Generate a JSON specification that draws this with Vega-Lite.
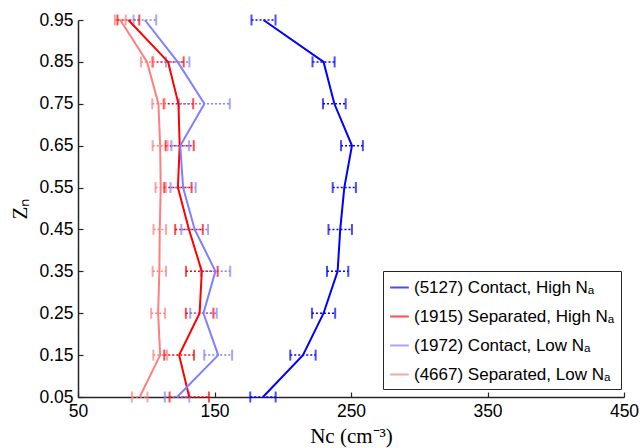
{
  "$schema": "https://vega.github.io/schema/vega-lite/v6.json",
  "width": 546,
  "height": 377,
  "autosize": {"type": "none"},
  "padding": {"left": 78, "top": 20, "right": 16, "bottom": 51},
  "background": "white",
  "data": {
    "values": [
      {"s": "(5127) Contact, High Nₐ", "z": 0.05, "m": 185.5, "lo": 176.2, "hi": 194.8},
      {"s": "(5127) Contact, High Nₐ", "z": 0.15, "m": 214.8, "lo": 205.5, "hi": 224.1},
      {"s": "(5127) Contact, High Nₐ", "z": 0.25, "m": 229.9, "lo": 221.4, "hi": 238.4},
      {"s": "(5127) Contact, High Nₐ", "z": 0.35, "m": 240.2, "lo": 232.4, "hi": 248.0},
      {"s": "(5127) Contact, High Nₐ", "z": 0.45, "m": 242.1, "lo": 233.5, "hi": 250.7},
      {"s": "(5127) Contact, High Nₐ", "z": 0.55, "m": 245.1, "lo": 236.6, "hi": 253.6},
      {"s": "(5127) Contact, High Nₐ", "z": 0.65, "m": 250.7, "lo": 242.7, "hi": 258.7},
      {"s": "(5127) Contact, High Nₐ", "z": 0.75, "m": 237.8, "lo": 229.5, "hi": 246.1},
      {"s": "(5127) Contact, High Nₐ", "z": 0.85, "m": 229.9, "lo": 221.8, "hi": 238.0},
      {"s": "(5127) Contact, High Nₐ", "z": 0.95, "m": 185.9, "lo": 177.1, "hi": 194.7},
      {"s": "(1915) Separated, High Nₐ", "z": 0.05, "m": 131.5, "lo": 117.1, "hi": 145.9},
      {"s": "(1915) Separated, High Nₐ", "z": 0.15, "m": 124.1, "lo": 113.2, "hi": 135.0},
      {"s": "(1915) Separated, High Nₐ", "z": 0.25, "m": 139.1, "lo": 129.0, "hi": 149.2},
      {"s": "(1915) Separated, High Nₐ", "z": 0.35, "m": 140.7, "lo": 129.1, "hi": 152.3},
      {"s": "(1915) Separated, High Nₐ", "z": 0.45, "m": 131.3, "lo": 121.2, "hi": 141.4},
      {"s": "(1915) Separated, High Nₐ", "z": 0.55, "m": 123.2, "lo": 113.2, "hi": 133.2},
      {"s": "(1915) Separated, High Nₐ", "z": 0.65, "m": 124.5, "lo": 114.2, "hi": 134.8},
      {"s": "(1915) Separated, High Nₐ", "z": 0.75, "m": 123.6, "lo": 112.8, "hi": 134.4},
      {"s": "(1915) Separated, High Nₐ", "z": 0.85, "m": 116.0, "lo": 104.6, "hi": 127.4},
      {"s": "(1915) Separated, High Nₐ", "z": 0.95, "m": 86.9, "lo": 78.9, "hi": 94.9},
      {"s": "(1972) Contact, Low Nₐ", "z": 0.05, "m": 122.6, "lo": 113.6, "hi": 131.6},
      {"s": "(1972) Contact, Low Nₐ", "z": 0.15, "m": 152.7, "lo": 142.5, "hi": 162.9},
      {"s": "(1972) Contact, Low Nₐ", "z": 0.25, "m": 141.9, "lo": 132.2, "hi": 151.6},
      {"s": "(1972) Contact, Low Nₐ", "z": 0.35, "m": 150.7, "lo": 139.9, "hi": 161.5},
      {"s": "(1972) Contact, Low Nₐ", "z": 0.45, "m": 135.5, "lo": 125.7, "hi": 145.3},
      {"s": "(1972) Contact, Low Nₐ", "z": 0.55, "m": 127.0, "lo": 117.8, "hi": 136.2},
      {"s": "(1972) Contact, Low Nₐ", "z": 0.65, "m": 124.9, "lo": 118.4, "hi": 131.4},
      {"s": "(1972) Contact, Low Nₐ", "z": 0.75, "m": 142.6, "lo": 124.0, "hi": 161.2},
      {"s": "(1972) Contact, Low Nₐ", "z": 0.85, "m": 123.0, "lo": 114.4, "hi": 131.6},
      {"s": "(1972) Contact, Low Nₐ", "z": 0.95, "m": 99.0, "lo": 90.7, "hi": 107.3},
      {"s": "(4667) Separated, Low Nₐ", "z": 0.05, "m": 95.2, "lo": 89.5, "hi": 100.9},
      {"s": "(4667) Separated, Low Nₐ", "z": 0.15, "m": 110.2, "lo": 105.2, "hi": 115.2},
      {"s": "(4667) Separated, Low Nₐ", "z": 0.25, "m": 108.7, "lo": 103.6, "hi": 113.8},
      {"s": "(4667) Separated, Low Nₐ", "z": 0.35, "m": 109.6, "lo": 104.7, "hi": 114.5},
      {"s": "(4667) Separated, Low Nₐ", "z": 0.45, "m": 109.9, "lo": 105.3, "hi": 114.5},
      {"s": "(4667) Separated, Low Nₐ", "z": 0.55, "m": 110.6, "lo": 106.8, "hi": 114.4},
      {"s": "(4667) Separated, Low Nₐ", "z": 0.65, "m": 110.2, "lo": 104.7, "hi": 115.7},
      {"s": "(4667) Separated, Low Nₐ", "z": 0.75, "m": 108.9, "lo": 104.4, "hi": 113.4},
      {"s": "(4667) Separated, Low Nₐ", "z": 0.85, "m": 100.6, "lo": 96.1, "hi": 105.1},
      {"s": "(4667) Separated, Low Nₐ", "z": 0.95, "m": 81.0, "lo": 77.0, "hi": 85.0}
    ]
  },
  "encoding": {
    "y": {
      "field": "z", "type": "quantitative",
      "scale": {"domain": [0.05, 0.95], "nice": false, "zero": false},
      "axis": {
        "values": [0.05, 0.15, 0.25, 0.35, 0.45, 0.55, 0.65, 0.75, 0.85, 0.95],
        "format": ".2f", "title": "Zₙ", "titleFont": "Liberation Serif", "titleFontSize": 21,
        "titleFontWeight": "normal", "titleColor": "black", "titlePadding": 8
      }
    },
    "color": {
      "field": "s", "type": "nominal",
      "scale": {
        "domain": ["(5127) Contact, High Nₐ", "(1915) Separated, High Nₐ", "(1972) Contact, Low Nₐ", "(4667) Separated, Low Nₐ"],
        "range": ["#0000FF", "#FF0000", "#7F7FFF", "#FF7F7F"]
      },
      "legend": {
        "orient": "none", "legendX": 305, "legendY": 251, "title": null,
        "symbolType": "stroke", "symbolStrokeWidth": 2, "symbolSize": 350,
        "labelFont": "Liberation Sans", "labelFontSize": 17, "labelColor": "black", "labelLimit": 400,
        "strokeColor": "#262626", "fillColor": "white", "padding": 6, "rowPadding": 10
      }
    }
  },
  "layer": [
    {
      "mark": {"type": "rule", "strokeDash": [2, 2], "strokeWidth": 1.5},
      "encoding": {
        "x": {"field": "lo", "type": "quantitative", "scale": {"domain": [50, 450], "nice": false},
          "title": "Nc (cm⁻³)",
          "axis": {"values": [50, 150, 250, 350, 450], "titleFont": "Liberation Serif", "titleFontSize": 21,
            "titleFontWeight": "normal", "titleColor": "black", "titlePadding": 6}},
        "x2": {"field": "hi"}
      }
    },
    {
      "mark": {"type": "tick", "orient": "vertical", "size": 11, "thickness": 2},
      "encoding": {"x": {"field": "lo", "type": "quantitative", "title": "Nc (cm⁻³)"}}
    },
    {
      "mark": {"type": "tick", "orient": "vertical", "size": 11, "thickness": 2},
      "encoding": {"x": {"field": "hi", "type": "quantitative", "title": "Nc (cm⁻³)"}}
    },
    {
      "mark": {"type": "line"},
      "encoding": {
        "x": {"field": "m", "type": "quantitative", "title": "Nc (cm⁻³)"},
        "order": {"field": "z"},
        "strokeWidth": {"field": "s", "type": "nominal",
          "scale": {"domain": ["(5127) Contact, High Nₐ", "(1915) Separated, High Nₐ", "(1972) Contact, Low Nₐ", "(4667) Separated, Low Nₐ"], "range": [2, 2, 1.6, 1.6]},
          "legend": null}
      }
    }
  ],
  "config": {
    "view": {"stroke": null},
    "axis": {
      "grid": false, "domainColor": "#262626", "domainWidth": 1.5,
      "ticks": true, "tickSize": -5, "tickColor": "#262626", "tickWidth": 1.2,
      "labelFont": "Liberation Sans", "labelFontSize": 17.5, "labelColor": "black", "labelPadding": 10,
      "labelFlush": false
    }
  }
}
